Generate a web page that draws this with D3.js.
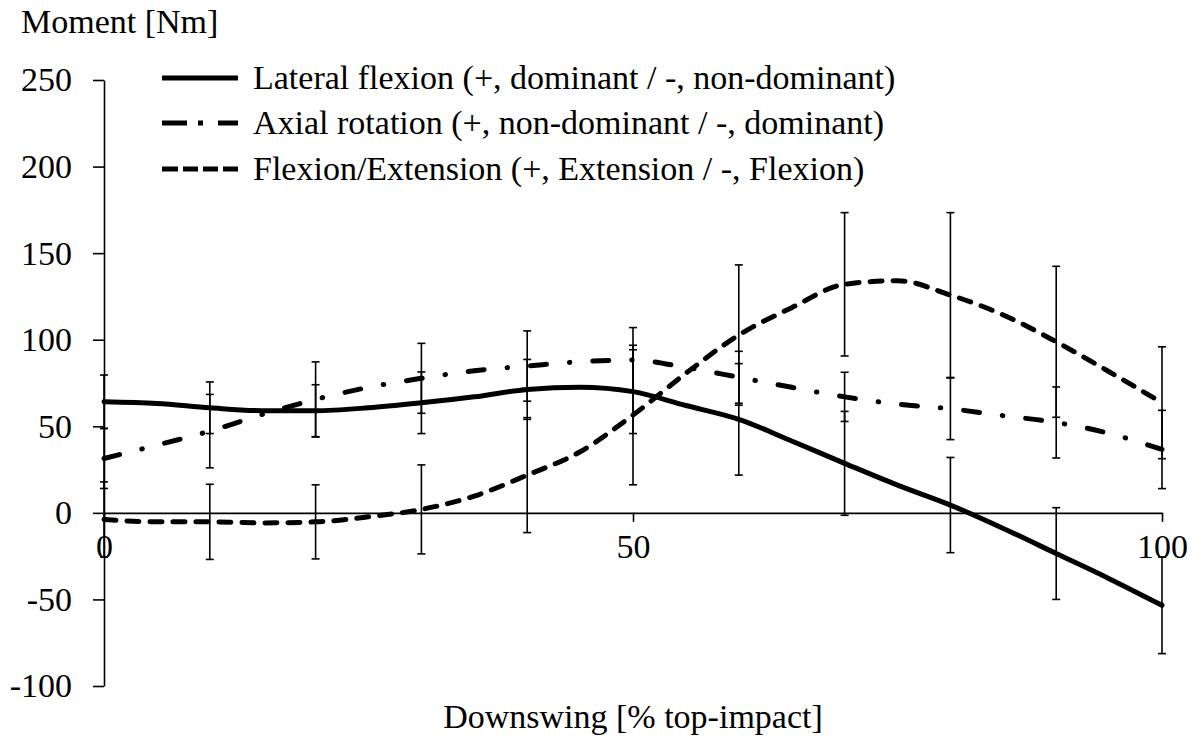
<!DOCTYPE html>
<html>
<head>
<meta charset="utf-8">
<script src="https://cdn.jsdelivr.net/npm/d3@7"></script>
<style>
  html, body { margin: 0; padding: 0; background: #fff; }
  svg { display: block; }
  svg text { font-family: "Liberation Serif", "Tinos", "Times New Roman", "Times", "Nimbus Roman", "DejaVu Serif", "Noto Serif", serif; fill: #000; }
</style>
</head>
<body>
<svg id="chart" width="1196" height="742"></svg>
<script>
// ---- data ----
const xPct = [0,5,10,15,20,25,30,35,40,45,50,55,60,65,70,75,80,85,90,95,100];
const lateralFlexion = [64.2,63.2,60.7,59.0,59.0,60.7,63.6,67.0,71.3,72.6,70.0,62.0,54.0,41.5,28.6,16.0,4.5,-9.0,-23.5,-38.0,-53.4];
const axialRotation  = [31.4,39.1,47.2,56.9,65.5,72.5,77.7,82.1,84.8,87.3,88.3,84.0,78.3,72.5,67.0,62.8,60.1,56.1,52.2,45.9,36.6];
const flexionExtension = [-3.8,-5.2,-5.2,-5.8,-5.2,-2.3,2.0,9.7,21.8,35.3,56.5,80.6,102.7,118.5,132.0,134.1,125.8,114.3,98.8,81.5,63.6];

const errX = [0,10,20,30,40,50,60,70,80,90,100];
const lateralSD = [15.4,14.9,15.0,17.8,17.3,24.2,32.2,30.0,27.5,26.5,27.9];
const axialSD   = [17.3,21.2,21.7,20.2,20.3,18.7,15.0,14.2,17.8,20.5,22.6];
const flexSD    = [21.7,21.7,21.4,25.7,33.2,40.3,40.5,41.4,47.6,43.6,32.3];

const yTicks = [-100,-50,0,50,100,150,200,250];
const xTicks = [0,50,100];

const legendLabels = [
  "Lateral flexion (+, dominant / -, non-dominant)",
  "Axial rotation (+, non-dominant / -, dominant)",
  "Flexion/Extension (+, Extension / -, Flexion)"
];
const yTitle = "Moment [Nm]";
const xTitle = "Downswing [% top-impact]";

// ---- drawing ----
const FONT = '"Liberation Serif", "Tinos", "Times New Roman", "Times", "Nimbus Roman", "DejaVu Serif", "Noto Serif", serif';
const svg = d3.select("#chart");
const x = d3.scaleLinear().domain([0,100]).range([104,1162]);
const y = d3.scaleLinear().domain([-100,250]).range([686,80]);

const series = [
  {vals: lateralFlexion, sd: lateralSD, dash: null, cap: "round"},
  {vals: axialRotation, sd: axialSD, dash: "16,23,0.5,23", cap: "round"},
  {vals: flexionExtension, sd: flexSD, dash: "12,11", cap: "round"}
];

// axes
const yAxis = d3.axisLeft(y).tickValues(yTicks).tickSize(11).tickSizeOuter(0).tickPadding(21)
  .tickFormat(d => String(d));
const gy = svg.append("g").attr("transform", `translate(${x(0)},0)`).call(yAxis);
const xAxis = d3.axisBottom(x).tickValues(xTicks).tickSize(9).tickSizeOuter(0).tickPadding(12)
  .tickFormat(d => String(d));
const gx = svg.append("g").attr("transform", `translate(0,${y(0)})`).call(xAxis);
[gx, gy].forEach(g => {
  g.attr("font-family", null).attr("font-size", null);
  g.selectAll("path.domain").attr("stroke", "#000").attr("stroke-width", 1.6);
  g.selectAll(".tick line").attr("stroke", "#000").attr("stroke-width", 1.6);
  g.selectAll(".tick text").style("font-family", FONT).style("font-size", "34px").attr("fill", "#000");
});

// error bars
const eb = svg.append("g");
series.forEach(s => {
  errX.forEach((xv, i) => {
    const m = s.vals[xPct.indexOf(xv)];
    const lo = m - s.sd[i], hi = m + s.sd[i];
    const px = x(xv);
    eb.append("line").attr("x1", px).attr("x2", px).attr("y1", y(lo)).attr("y2", y(hi))
      .attr("stroke", "#000").attr("stroke-width", 1.6);
    [lo, hi].forEach(v => {
      eb.append("line").attr("x1", px - 4).attr("x2", px + 4).attr("y1", y(v)).attr("y2", y(v))
        .attr("stroke", "#000").attr("stroke-width", 1.6);
    });
  });
});

// lines
const line = d3.line().x((d, i) => x(xPct[i])).y(d => y(d)).curve(d3.curveMonotoneX);
series.forEach(s => {
  svg.append("path").datum(s.vals).attr("d", line)
    .attr("fill", "none").attr("stroke", "#000").attr("stroke-width", 5)
    .attr("stroke-linecap", s.cap)
    .attr("stroke-dasharray", s.dash);
});

// legend
const legY = [78, 123, 169];
const legDash = [null, "25,11,5,15,20", "16,5,15,5,15,5,15"];
legendLabels.forEach((lab, i) => {
  svg.append("line").attr("x1", 162).attr("x2", 238).attr("y1", legY[i]).attr("y2", legY[i])
    .attr("stroke", "#000").attr("stroke-width", 5).attr("stroke-dasharray", legDash[i]);
  svg.append("text").attr("x", 253).attr("y", legY[i] + 11)
    .style("font-family", FONT).style("font-size", "34px").text(lab);
});

// titles
svg.append("text").attr("x", 21).attr("y", 33).style("font-family", FONT).style("font-size", "34px").text(yTitle);
svg.append("text").attr("x", 633).attr("y", 728).attr("text-anchor", "middle")
  .style("font-family", FONT).style("font-size", "34px").text(xTitle);
</script>
</body>
</html>
